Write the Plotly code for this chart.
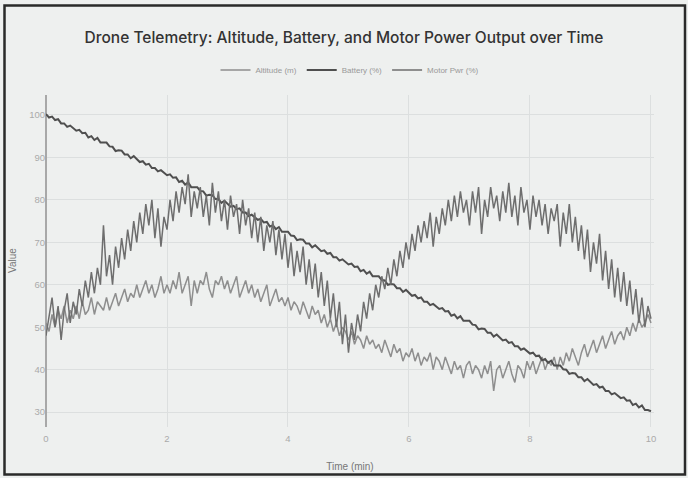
import plotly.graph_objects as go

# Time axis: 201 samples, 0 to 10 min
time_min = [round(i * 0.05, 2) for i in range(201)]

altitude_m = [
    51, 49, 53, 50, 54, 52, 55, 51, 54, 52,
    55, 52, 56, 53, 54, 57, 53, 56, 55, 54,
    57, 54, 56, 58, 55, 57, 59, 56, 58, 57,
    60, 57, 59, 61, 58, 60, 57, 59, 62, 58,
    60, 58, 61, 59, 63, 58, 60, 62, 55, 61,
    58, 61, 60, 63, 59, 57, 61, 60, 62, 59,
    61, 58, 60, 62, 57, 59, 61, 58, 60, 57,
    59, 56, 58, 60, 55, 57, 59, 56, 57, 55,
    57, 54, 56, 55, 53, 56, 54, 52, 55, 53,
    54, 51, 53, 50, 52, 49, 51, 48, 50, 49,
    47, 49, 46, 48, 47, 45, 48, 46, 47, 45,
    46, 44, 47, 45, 43, 46, 44, 45, 42, 44,
    43, 45, 42, 44, 41, 43, 42, 44, 40, 43,
    42, 40, 43, 41, 39, 42, 40, 41, 38, 41,
    42, 39, 41, 40, 38, 41, 39, 42, 35, 40,
    41, 38, 40, 42, 39, 37, 41, 40, 38, 42,
    40, 42, 39, 41, 43, 40, 42, 41, 43, 40,
    43, 41, 44, 42, 45, 43, 41, 44, 46, 43,
    45, 47, 44, 46, 48, 45, 47, 49, 46, 48,
    49, 47, 50, 48, 51, 49, 52, 50, 51, 53,
    51,
]

battery_pct = [
    100.2, 99.4, 99.6, 98.8, 99.0, 98.0, 98.0, 97.2, 97.5, 96.8,
    96.3, 96.5, 95.7, 95.8, 94.7, 95.0, 94.1, 94.6, 93.5, 93.5,
    93.5, 92.6, 92.5, 91.5, 91.7, 91.6, 90.7, 90.7, 89.8, 90.3,
    89.7, 88.9, 89.1, 88.3, 88.5, 87.5, 87.5, 86.7, 87.0, 86.3,
    85.8, 86.0, 85.2, 85.3, 84.2, 84.5, 83.6, 84.1, 83.0, 83.0,
    83.0, 82.1, 82.0, 81.0, 81.2, 81.1, 80.2, 80.2, 79.3, 79.8,
    79.2, 78.4, 78.6, 77.8, 78.0, 77.0, 77.0, 76.2, 76.5, 75.8,
    75.3, 75.5, 74.7, 74.8, 73.7, 74.0, 73.1, 73.6, 72.5, 72.5,
    72.5, 71.6, 71.5, 70.5, 70.7, 70.6, 69.7, 69.7, 68.8, 69.3,
    68.7, 67.9, 68.1, 67.3, 67.5, 66.5, 66.5, 65.7, 66.0, 65.3,
    64.8, 65.0, 64.2, 64.3, 63.2, 63.5, 62.6, 63.1, 62.0, 62.0,
    62.0, 61.1, 61.0, 60.0, 60.2, 60.1, 59.2, 59.2, 58.3, 58.8,
    58.2, 57.4, 57.6, 56.8, 57.0, 56.0, 56.0, 55.2, 55.5, 54.8,
    54.3, 54.5, 53.7, 53.8, 52.7, 53.0, 52.1, 52.6, 51.5, 51.5,
    51.5, 50.6, 50.5, 49.5, 49.7, 49.6, 48.7, 48.7, 47.8, 48.3,
    47.7, 46.9, 47.1, 46.3, 46.5, 45.5, 45.5, 44.7, 45.0, 44.3,
    43.8, 44.0, 43.2, 43.3, 42.2, 42.5, 41.6, 42.1, 41.0, 41.0,
    41.0, 40.1, 40.0, 39.0, 39.2, 39.1, 38.2, 38.2, 37.3, 37.8,
    37.2, 36.4, 36.6, 35.8, 36.0, 35.0, 35.0, 34.2, 34.5, 33.8,
    33.3, 33.5, 32.7, 32.8, 31.7, 32.0, 31.1, 31.6, 30.5, 30.5,
    30.2,
]

motor_pwr_pct = [
    48, 53, 57, 50, 55, 47, 54, 58, 51, 56,
    53, 59, 55, 61, 57, 63, 58, 64, 60, 74,
    62, 67, 60, 69, 64, 71, 66, 73, 68, 75,
    70, 77, 72, 79, 74, 80, 71, 78, 69, 76,
    73, 80, 75, 82, 77, 83, 79, 86, 76, 82,
    78, 83, 76, 81, 74, 84, 77, 82, 75, 80,
    73, 81, 76, 79, 72, 80, 74, 78, 71, 77,
    70, 76, 68, 74, 70, 75, 67, 73, 66, 72,
    64, 70, 62, 68, 63, 69, 60, 66, 59, 65,
    57, 63, 55, 61, 52, 58, 50, 56, 46, 53,
    44, 51, 47, 53, 49, 56, 52, 58, 54, 60,
    57, 62, 59, 64, 60, 66, 62, 68, 64, 70,
    66, 72, 68, 74, 70, 75, 71, 77, 69, 76,
    72, 78, 74, 80, 75, 81, 76, 82, 77, 80,
    74, 82, 77, 83, 72, 80, 76, 83, 78, 81,
    75, 82, 77, 84, 76, 81, 74, 83, 77, 80,
    73, 81, 76, 80, 74, 79, 72, 78, 75, 79,
    69, 77, 72, 79, 70, 76, 68, 74, 66, 73,
    63, 70, 65, 72, 61, 68, 59, 66, 57, 64,
    56, 63, 55, 61, 53, 59, 51, 57, 50, 55,
    52,
]

x_ticks = [0, 2, 4, 6, 8, 10]
y_ticks = [30, 40, 50, 60, 70, 80, 90, 100]

W, H = 688, 478
ML, MR, MT, MB = 46, 34, 95, 51
PW, PH = W - ML - MR, H - MT - MB

fig = go.Figure()
fig.add_trace(go.Scatter(x=time_min, y=altitude_m, mode="lines", name="Altitude (m)",
                         line=dict(color="#8e8e8e", width=1.5)))
fig.add_trace(go.Scatter(x=time_min, y=battery_pct, mode="lines", name="Battery (%)",
                         line=dict(color="#4f4f4f", width=2)))
fig.add_trace(go.Scatter(x=time_min, y=motor_pwr_pct, mode="lines", name="Motor Pwr (%)",
                         line=dict(color="#6e6e6e", width=1.5)))

def px2paper_x(px):
    return (px - ML) / PW

def px2paper_y(py):
    return (H - MB - py) / PH

fig.add_shape(type="rect", xref="paper", yref="paper",
              x0=px2paper_x(4.5), x1=px2paper_x(685), y0=px2paper_y(474.5), y1=px2paper_y(5.5),
              line=dict(color="#2a2a2a", width=2.5), fillcolor="rgba(0,0,0,0)", layer="above")

fig.add_annotation(text="Value", textangle=-90, xref="paper", yref="paper",
                   x=px2paper_x(12), y=0.5, xanchor="center", yanchor="middle",
                   showarrow=False, font=dict(size=10, color="#777777"))

fig.update_layout(
    width=W, height=H,
    margin=dict(l=ML, r=MR, t=MT, b=MB),
    paper_bgcolor="#eef0ef",
    plot_bgcolor="#eef0ef",
    font=dict(family="Liberation Sans, Arial, sans-serif", color="#888888", size=9),
    title=dict(text="Drone Telemetry: Altitude, Battery, and Motor Power Output over Time",
               x=0.5, xanchor="center", y=1 - 38 / H, yanchor="middle",
               font=dict(family="Inter, Liberation Sans, sans-serif", size=15.5,
                         weight=500, color="#333333")),
    legend=dict(orientation="h", x=0.5, xanchor="center", y=px2paper_y(70), yanchor="middle",
                font=dict(size=8, color="#999999"), itemwidth=30, bgcolor="rgba(0,0,0,0)"),
    showlegend=True,
)
fig.update_xaxes(range=[0, 10.05], tickvals=x_ticks, showgrid=True, gridcolor="#dcdfdf",
                 zeroline=True, zerolinecolor="#a8a8a8", zerolinewidth=2,
                 showline=False, ticks="", tickfont=dict(size=9.5, color="#aaaaaa"),
                 ticklabelstandoff=4, automargin=False,
                 title=dict(text="Time (min)", font=dict(size=10, color="#777777"), standoff=20))
fig.update_yaxes(range=[26.5, 104.7], tickvals=y_ticks, showgrid=True, gridcolor="#dcdfdf",
                 zeroline=False, showline=False, ticks="", tickfont=dict(size=9.5, color="#aaaaaa"),
                 automargin=False)

fig.write_html("out.html", config={"displayModeBar": False},
               post_script="document.body.style.margin='0';")
